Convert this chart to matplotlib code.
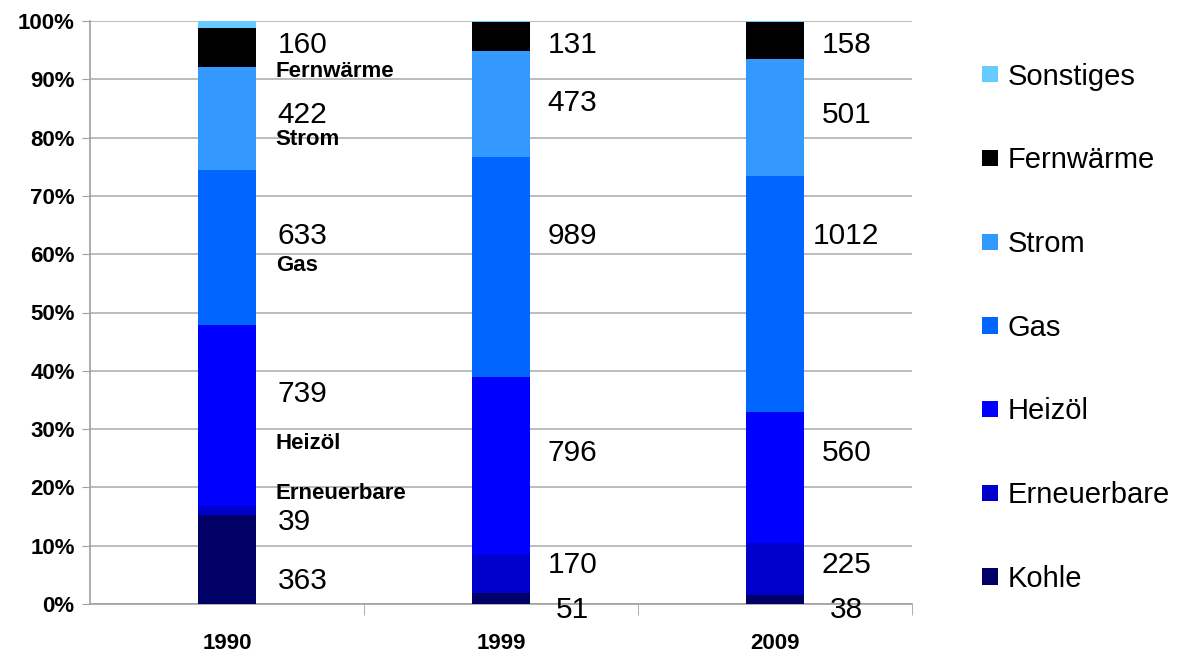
import matplotlib.pyplot as plt
from matplotlib.patches import Patch
import numpy as np

plt.rcParams['font.family'] = ['Liberation Sans', 'DejaVu Sans']

years = ['1990', '1999', '2009']
sources = ['Kohle', 'Erneuerbare', 'Heizöl', 'Gas', 'Strom', 'Fernwärme', 'Sonstiges']
colors = ['#000066', '#0000CC', '#0000FF', '#0066FF', '#3399FF', '#000000', '#66CCFF']

kohle = [363, 51, 38]
erneuerbare = [39, 170, 225]
heizoel = [739, 796, 560]
gas = [633, 989, 1012]
strom = [422, 473, 501]
fernwaerme = [160, 131, 158]
sonstiges = [28, 5, 4]

series = np.array([kohle, erneuerbare, heizoel, gas, strom, fernwaerme, sonstiges], dtype=float)
shares = series / series.sum(axis=0) * 100

# where the number labels sit (percent height), per year, bottom to top
label_y = {
    0: [3.9, 14.1, 36.0, 63.1, 83.9, 95.9],
    1: [-1.0, 6.7, 25.9, 63.1, 85.9, 95.9],
    2: [-1.0, 6.7, 25.9, 63.1, 83.9, 95.9],
}
# bold source names beside the first bar
name_y = {'Erneuerbare': 19.0, 'Heizöl': 27.6, 'Gas': 58.0, 'Strom': 79.6, 'Fernwärme': 91.4}

fig = plt.figure(figsize=(11.85, 6.54), dpi=100)
ax = fig.add_axes([90 / 1185, 50 / 654, 822 / 1185, 583 / 654])

x = np.arange(len(years))
bottom = np.zeros(len(years))
for i, name in enumerate(sources):
    ax.bar(x, shares[i], 0.215, bottom=bottom, color=colors[i], label=name, zorder=3)
    bottom += shares[i]

for j in range(len(years)):
    for i in range(6):
        val = int(series[i, j])
        if j == 0:
            ax.text(j + 0.185, label_y[j][i], str(val), ha='left', va='center', fontsize=21.5)
        else:
            ax.text(j + 0.26, label_y[j][i], str(val), ha='center', va='center', fontsize=21.5)

for name, yy in name_y.items():
    ax.text(0.178, yy, name, ha='left', va='center', fontsize=16, fontweight='bold')

ax.set_xlim(-0.5, 2.5)
ax.set_ylim(0, 100)
ax.set_yticks(np.arange(0, 101, 10))
ax.set_yticklabels([f'{v}%' for v in range(0, 101, 10)], fontsize=16, fontweight='bold')
ax.set_xticks(x)
ax.set_xticklabels(years, fontsize=16, fontweight='bold')
ax.set_xticks([0.5, 1.5, 2.5], minor=True)
ax.tick_params(axis='x', which='major', length=0, pad=21)
ax.tick_params(axis='x', which='minor', length=8, color='#A0A0A0', direction='out')
ax.tick_params(axis='y', length=6, color='#A0A0A0', direction='out', pad=5)
ax.grid(axis='y', color='#B0B0B0', linewidth=1.2, zorder=0)
for side in ['top', 'right']:
    ax.spines[side].set_visible(False)
for side in ['left', 'bottom']:
    ax.spines[side].set_color('#A0A0A0')
    ax.spines[side].set_linewidth(1.2)

handles = [Patch(facecolor=c, label=s) for s, c in zip(sources, colors)][::-1]
fig.legend(handles=handles, loc='upper left', bbox_to_anchor=(970 / 1185, 1 - 51 / 654),
           frameon=False, fontsize=21, handlelength=0.55, handleheight=0.48,
           handletextpad=0.35, labelspacing=1.91, borderaxespad=0)

fig.savefig('out.png', dpi=100)
